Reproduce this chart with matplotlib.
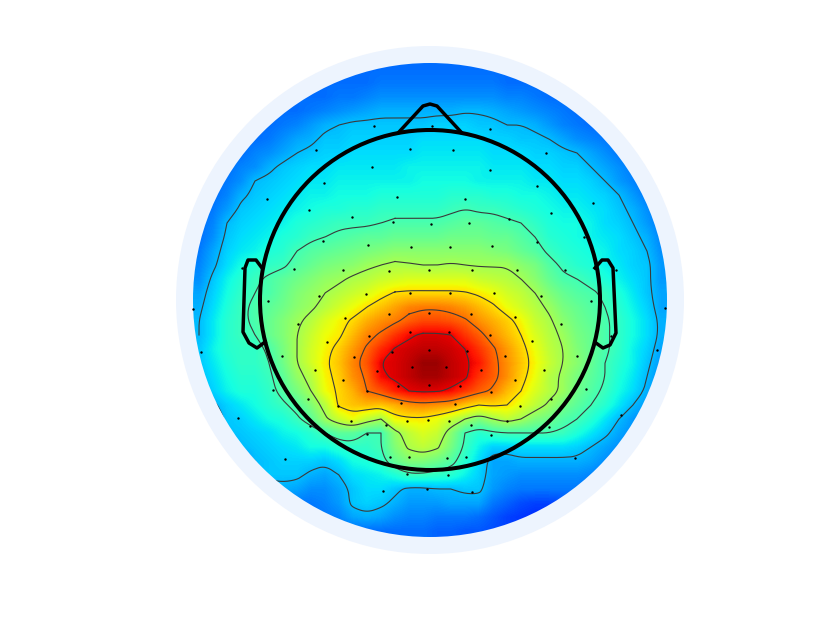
import numpy as np
import matplotlib
matplotlib.use('Agg')
import matplotlib.pyplot as plt
from matplotlib.patches import Circle

# picture positions of the map samples
grid_x = [199, 213, 227, 241, 255, 269, 283, 297, 311, 325, 339, 353, 367, 381, 395, 409, 423,
          437, 451, 465, 479, 493, 507, 521, 535, 549, 563, 577, 591, 605, 619, 633, 647, 661]
grid_y = [69, 83, 97, 111, 125, 139, 153, 167, 181, 195, 209, 223, 237, 251, 265, 279, 293,
          307, 321, 335, 349, 363, 377, 391, 405, 419, 433, 447, 461, 475, 489, 503, 517, 531]

# map values, read row by row
values = [
    [23, 23, 23, 23, 23, 23, 23, 23, 23, 23, 23, 23, 23, 23, 23, 23, 23, 23, 23, 23, 23, 23, 23, 23, 23, 23, 23, 23, 23, 23, 23, 23, 23, 23],
    [23, 23, 23, 23, 23, 23, 23, 23, 23, 23, 23, 23, 23, 24, 24, 24, 24, 24, 24, 24, 24, 24, 23, 23, 23, 23, 23, 23, 23, 23, 23, 23, 23, 23],
    [23, 23, 23, 23, 23, 23, 23, 23, 23, 23, 24, 24, 25, 26, 26, 26, 26, 26, 26, 26, 26, 26, 25, 25, 24, 23, 23, 23, 23, 23, 23, 23, 23, 23],
    [23, 23, 23, 23, 23, 23, 23, 23, 24, 25, 26, 27, 28, 29, 29, 29, 29, 29, 29, 29.7, 29.7, 29, 28, 27, 26, 25, 24, 23, 23, 23, 23, 23, 23, 23],
    [23, 23, 23, 23, 23, 23, 24, 25, 27, 29, 30, 31, 31, 31, 31, 31, 31, 32, 32, 32, 31, 31, 30, 30, 29, 27, 25, 24, 23, 23, 23, 23, 23, 23],
    [23, 23, 23, 23, 23, 24, 26, 28, 29, 31, 31, 32, 32, 32, 32, 32, 33, 33, 33, 33, 33, 32, 32, 31, 31, 30, 28, 26, 25, 24, 23, 23, 23, 23],
    [23, 23, 23, 23, 25, 26, 28, 30, 31, 32, 32, 33, 33, 33, 33, 33, 34, 34, 34, 34, 34, 33, 33, 33, 32, 32, 31, 30, 28, 26, 24, 23, 23, 23],
    [23, 23, 23, 25, 26, 29, 31, 32, 33, 33, 34, 34, 34, 34, 34, 35, 35, 35, 35, 35, 35, 34, 34, 34, 33, 33, 32, 32, 30, 28, 26, 24, 23, 23],
    [23, 23, 24, 26, 30, 31, 32, 33, 34, 34, 35, 35, 35, 35, 35, 35, 36, 36, 36, 36, 35, 35, 35, 35, 34, 34, 33, 33, 32, 30, 27, 25, 23, 23],
    [23, 23, 25, 29, 31, 32, 33, 34, 35, 35, 36, 36, 36, 37, 37, 37, 37, 37, 38, 38, 38, 37, 37, 36, 36, 35, 34, 34, 33, 32, 30, 27, 24, 23],
    [23, 24, 27, 31, 32, 33, 34, 35, 36, 37, 37, 38, 38, 39, 39, 39, 39, 39, 40, 41, 40, 40, 39, 38, 37, 36, 35, 35, 34, 33, 31, 29, 26, 23],
    [23, 25, 30, 32, 33, 34, 35, 37, 38, 39, 40, 40, 40, 41, 42, 42, 42, 42, 43, 44, 44, 43, 42, 41, 39, 37, 36, 36, 35, 33, 32, 30, 27, 24],
    [23, 26, 31, 33, 34, 35, 37, 38, 40, 41, 42, 43, 44, 44, 45, 45, 45, 45, 46, 46, 46, 45, 45, 43, 41, 38, 37, 36, 35, 34, 33, 31, 29, 25],
    [24, 28, 32, 34, 35, 37, 38, 41, 43, 44, 45, 46, 47, 48, 49, 49, 49, 49, 49, 49, 49, 48, 47, 45, 43, 40, 38, 37, 36, 35, 33, 32, 30, 26],
    [25, 29, 33, 36, 38, 39, 40, 43, 45, 47, 48, 49, 51, 52, 53, 52.5, 52, 52, 52.5, 52, 51.5, 51.5, 51.5, 49, 47, 43, 40, 38, 37, 35, 34, 32, 31, 27],
    [26, 31, 35, 38, 40, 42, 44, 46, 48, 50, 51, 53, 54, 56, 57, 58, 58, 58, 58, 58, 56, 55, 54, 52, 49, 45, 42, 41, 39, 37, 35, 33, 31, 27],
    [28, 32, 36, 39, 41, 42, 45, 48, 50, 52, 54, 56, 58, 61, 63.5, 64, 64, 64, 64, 63.5, 62, 60, 57, 55, 52, 48, 45, 43, 42, 40, 37, 34, 31, 28],
    [29, 33, 37, 40, 42, 44, 46, 49, 51, 54, 57, 60, 63, 66, 69, 72, 73, 73, 72, 70, 67, 64, 60, 57, 54, 51, 47, 45, 43, 41, 38, 35, 32, 28],
    [30, 34, 38, 40, 42, 45, 48, 51, 54, 58, 61, 64, 68, 71, 73, 76, 78, 78, 77, 75, 71, 68, 65, 61, 56, 53, 49, 46, 44, 42, 39, 36, 33, 29],
    [30, 34, 38, 40, 41, 45, 48, 52, 56, 60, 62, 67, 72, 75, 80, 84, 86, 86, 85, 80, 76, 71, 67, 63, 58, 54, 51, 47, 45, 42, 39, 36, 33, 29],
    [31, 35, 38, 39, 39, 42, 47, 52, 57, 61, 65, 70, 75, 81, 85.5, 87, 88, 88, 87, 85, 80, 75, 70, 65, 60, 55, 52, 48, 45, 42, 39, 35, 32, 28],
    [31, 34, 37, 39, 39, 41, 46, 52, 57, 62, 66, 72, 77, 85, 86, 88, 91, 91, 88, 86, 83, 76, 71, 66, 61, 56, 52, 49, 45, 41, 38, 35, 31, 27],
    [30, 33, 36, 38, 38, 40, 44, 50, 54, 61, 65, 71, 75, 84, 86, 88, 90, 90, 88, 86, 80, 76, 71, 65, 60, 54, 51, 47, 44, 41, 37, 34, 30, 26],
    [29, 32, 35, 37, 37, 39, 43, 47, 52, 60, 64, 68, 74, 77, 82, 85, 86, 85.5, 84, 80, 76, 73, 67, 63, 58, 54, 51, 46, 43, 40, 36, 33, 29, 25],
    [26, 29, 32, 34, 36, 38, 40, 43, 48, 54, 64, 66, 67, 66, 68, 71, 72, 71, 70, 66, 63, 64, 63, 59, 55, 51, 47, 44, 41, 38, 34, 30, 27, 24],
    [23, 26, 31, 32, 34, 36, 37, 40, 44, 51, 56, 60, 55, 52, 61, 62, 62, 60, 56, 52, 48, 52, 55, 52, 48, 46, 43, 41, 38, 34, 30, 27, 25, 23],
    [23, 24, 30.5, 31, 32, 33, 35, 36, 38, 41, 44, 44, 41, 41, 50, 55, 58, 56, 49, 41, 38, 40, 41, 41, 41, 41, 40, 37, 34, 31, 28, 26, 24, 23],
    [23, 23, 24, 30, 31, 32, 33, 34, 36, 36, 38, 39, 39, 41, 48, 53, 55, 53, 47, 40, 35, 32, 32, 33, 33, 33, 33, 32, 30, 28, 26, 24, 23, 23],
    [23, 23, 23, 24, 30, 31, 32, 32, 32, 31, 33, 36, 37, 39, 45, 48, 48, 46, 43, 38, 33, 28, 28, 29, 29, 29, 29, 29, 28, 26, 24, 23, 23, 23],
    [23, 23, 23, 23, 30, 31, 31, 31, 29, 28, 30, 33, 34, 35, 37, 40, 40, 39, 38, 35, 32, 28, 27, 26, 26, 26, 26, 26, 25, 24, 23, 23, 23, 23],
    [23, 23, 23, 23, 23, 28, 29, 28, 26, 26, 28, 31, 33, 33, 31, 29, 29, 30, 30, 31, 31, 27, 25, 24, 24, 24, 24, 24, 23, 22, 22, 22, 22, 22],
    [23, 23, 23, 23, 23, 23, 23, 24, 24, 25, 27, 31, 32, 31, 29, 27, 27, 27, 28, 28, 28, 24, 22, 20, 19, 19, 20, 21, 21, 21, 21, 21, 21, 21],
    [23, 23, 23, 23, 23, 23, 23, 23, 23, 24, 25, 28, 29, 28, 26, 25, 25, 24, 24, 24, 23, 21, 19, 18, 17, 17, 18, 19, 20, 20, 20, 20, 20, 20],
    [23, 23, 23, 23, 23, 23, 23, 23, 23, 23, 23, 23, 23, 23, 23, 23, 23, 22, 22, 21, 21, 20, 19, 19, 19, 19, 19, 20, 20, 20, 20, 20, 20, 20],
]

contour_levels = [30, 41, 52, 63, 74, 85]

# electrode positions
elec_x = [374, 316, 410, 372, 324, 267, 397, 309, 352, 393, 323, 368, 411, 294, 343, 389, 242, 319, 366, 410, 429,
          432, 490, 453, 546, 490, 537, 593, 465, 551, 431, 469, 509, 450, 492, 537, 584, 472, 517, 565, 616, 450, 494, 541, 599,
          268, 193, 345, 389, 298, 429, 369, 410, 327, 201, 282, 354, 392, 429, 315, 377, 412, 343, 398, 429, 273, 367, 308, 401,
          338, 238, 351, 407, 428, 310, 386, 367, 285, 390, 409, 407, 383, 427,
          591, 665, 471, 515, 561, 449, 490, 611, 532, 467, 657, 505, 577, 446, 481, 544, 515, 460, 491, 586, 455, 520, 551, 621,
          449, 507, 549, 471, 491, 447, 466, 575, 448, 472]
elec_y = [126, 150, 149, 167, 183, 199, 197, 210, 217, 222, 241, 245, 247, 269, 270, 271, 268, 296, 294, 293, 270,
          126, 129, 150, 153, 170, 186, 203, 199, 213, 224, 223, 219, 247, 246, 242, 237, 270, 270, 270, 270, 293, 293, 296, 297,
          301, 309, 318, 314, 324, 313, 336, 332, 342, 352, 356, 357, 352, 350, 370, 371, 367, 380, 386, 385, 390, 391, 399, 403,
          406, 418, 421, 421, 420, 426, 425, 434, 459, 457, 457, 474, 491, 489,
          301, 308, 314, 317, 324, 332, 335, 336, 341, 351, 350, 356, 356, 367, 370, 370, 380, 386, 392, 389, 404, 406, 399, 415,
          421, 421, 427, 425, 435, 458, 457, 458, 475, 492]

# head outline
nose_x = [399, 423, 430, 437, 461]
nose_y = [132, 106, 104, 106, 132]
left_ear_x = [262, 256, 248, 245, 243, 249, 257, 265]
left_ear_y = [268, 260, 260, 268, 332, 343, 348, 342]
right_ear_x = [595, 602, 608, 613, 616, 610, 603, 596]
right_ear_y = [268, 260, 260, 268, 333, 345, 348, 343]


def rounded(seg, passes=3):
    """corner cutting, so the contour is not a polyline on the coarse grid"""
    for _ in range(passes):
        q = 0.75 * seg[:-1] + 0.25 * seg[1:]
        r = 0.25 * seg[:-1] + 0.75 * seg[1:]
        mid = np.empty((2 * len(q), 2))
        mid[0::2] = q
        mid[1::2] = r
        seg = np.vstack([seg[:1], mid, seg[-1:]])
    return seg


fig = plt.figure(figsize=(8.3, 6.25), dpi=100)
ax = fig.add_axes([0, 0, 1, 1])

ax.add_patch(Circle((430, 300), 254, facecolor='#edf4fe', edgecolor='none', zorder=1))
disc = Circle((430, 300), 237, facecolor='none', edgecolor='none', zorder=2)
ax.add_patch(disc)

im = ax.imshow(values, cmap='jet', vmin=1.6, vmax=93.3, extent=(192, 668, 538, 62),
               origin='upper', interpolation='bilinear', zorder=2)
im.set_clip_path(disc)

cs = ax.contour(grid_x, grid_y, values, levels=contour_levels, alpha=0)
for level_segs in cs.allsegs:
    for seg in level_segs:
        line, = ax.plot(*rounded(seg).T, color='#3a3a3a', linewidth=0.8, zorder=3)
        line.set_clip_path(disc)

ax.scatter(elec_x, elec_y, s=3, color='black', linewidths=0, zorder=4)

ax.add_patch(Circle((430, 300), 170, facecolor='none', edgecolor='black', linewidth=2.9, zorder=5))
ax.plot(nose_x, nose_y, color='black', linewidth=2.5, zorder=5)
ax.plot(left_ear_x, left_ear_y, color='black', linewidth=2.5, zorder=5)
ax.plot(right_ear_x, right_ear_y, color='black', linewidth=2.5, zorder=5)

ax.set_xlim(0, 830)
ax.set_ylim(625, 0)
ax.set_aspect('equal')
ax.axis('off')

plt.savefig('out.png', dpi=100)
